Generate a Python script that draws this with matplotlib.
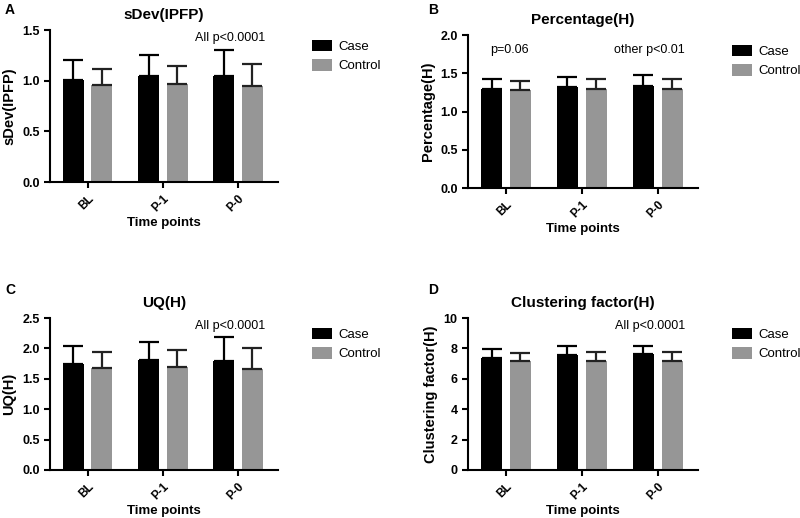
import matplotlib.pyplot as plt
import numpy as np

plt.rcParams['font.family'] = ['Liberation Sans', 'DejaVu Sans']

# Data
timepoints = ['BL', 'P-1', 'P-0']

sdev_case = [1.01, 1.05, 1.05]
sdev_case_err = [0.19, 0.20, 0.25]
sdev_ctrl = [0.96, 0.97, 0.95]
sdev_ctrl_err = [0.16, 0.18, 0.21]

pct_case = [1.30, 1.32, 1.33]
pct_case_err = [0.13, 0.13, 0.15]
pct_ctrl = [1.28, 1.29, 1.29]
pct_ctrl_err = [0.12, 0.13, 0.13]

uq_case = [1.75, 1.81, 1.80]
uq_case_err = [0.29, 0.30, 0.39]
uq_ctrl = [1.68, 1.69, 1.66]
uq_ctrl_err = [0.26, 0.29, 0.35]

cf_case = [7.4, 7.55, 7.6]
cf_case_err = [0.55, 0.6, 0.55]
cf_ctrl = [7.2, 7.2, 7.2]
cf_ctrl_err = [0.5, 0.55, 0.55]

CASE_COLOR = "#000000"
CTRL_COLOR = "#969696"

fig = plt.figure(figsize=(8, 5.18), dpi=100)

panels = [
    # letter, title, case, case_err, ctrl, ctrl_err, ymax, yticks, fmt, rect, letter pos
    ("A", "sDev(IPFP)", sdev_case, sdev_case_err, sdev_ctrl, sdev_ctrl_err,
     1.5, [0.0, 0.5, 1.0, 1.5], "{:.1f}", [0.0625, 0.6486, 0.285, 0.2934], (5, 10)),
    ("B", "Percentage(H)", pct_case, pct_case_err, pct_ctrl, pct_ctrl_err,
     2.0, [0.0, 0.5, 1.0, 1.5, 2.0], "{:.1f}", [0.585, 0.637, 0.2875, 0.2954], (428, 10)),
    ("C", "UQ(H)", uq_case, uq_case_err, uq_ctrl, uq_ctrl_err,
     2.5, [0.0, 0.5, 1.0, 1.5, 2.0, 2.5], "{:.1f}", [0.0625, 0.0927, 0.285, 0.2934], (5, 290)),
    ("D", "Clustering factor(H)", cf_case, cf_case_err, cf_ctrl, cf_ctrl_err,
     10, [0, 2, 4, 6, 8, 10], "{:d}", [0.585, 0.0927, 0.2875, 0.2934], (428, 290)),
]

x = np.arange(len(timepoints))
width = 0.28
offset = 0.19

axes = {}
for letter, title, case, case_err, ctrl, ctrl_err, ymax, yticks, fmt, rect, lpos in panels:
    ax = fig.add_axes(rect)
    axes[letter] = ax
    ax.bar(x - offset, case, width, color=CASE_COLOR, label="Case", zorder=2)
    ax.bar(x + offset, ctrl, width, color=CTRL_COLOR, label="Control", zorder=2)
    ax.errorbar(x - offset, case, yerr=[np.zeros(3), case_err], fmt='none',
                ecolor='black', elinewidth=1.6, capsize=7.5, capthick=1.6, zorder=3)
    ax.errorbar(x + offset, ctrl, yerr=[np.zeros(3), ctrl_err], fmt='none',
                ecolor='#222222', elinewidth=1.6, capsize=7.5, capthick=1.6, zorder=3)

    ax.set_xlim(-0.5, 2.53)
    ax.set_ylim(0, ymax)
    ax.set_yticks(yticks)
    ax.set_yticklabels([fmt.format(t) for t in yticks], fontsize=9, fontweight='bold')
    ax.set_xticks(x)
    ax.set_xticklabels(timepoints, rotation=45, ha='right', rotation_mode='anchor',
                       fontsize=8.5, fontweight='bold')
    for s in ['top', 'right']:
        ax.spines[s].set_visible(False)
    for s in ['left', 'bottom']:
        ax.spines[s].set_linewidth(1.5)
    ax.tick_params(width=1.5, length=4)

    ax.set_title(title, fontsize=11, fontweight='bold', pad=8)
    ax.set_ylabel(title, fontsize=10.5, fontweight='bold')
    ax.set_xlabel("Time points", fontsize=9.5, fontweight='bold', labelpad=2)
    fig.text(lpos[0] / 800, 1 - lpos[1] / 518, letter, fontsize=10,
             fontweight='bold', ha='left', va='center')

    ax.legend(loc='upper left', bbox_to_anchor=(1.12, 0.98), frameon=False,
              fontsize=9.5, handlelength=1.5, handleheight=1.0, labelspacing=0.45,
              borderpad=0, handletextpad=0.5)

axes["A"].text(0.943, 0.947, "All p<0.0001", transform=axes["A"].transAxes,
               fontsize=9, ha='right', va='center')
axes["B"].text(0.18, 0.90, "p=0.06", transform=axes["B"].transAxes,
               fontsize=9, ha='center', va='center')
axes["B"].text(0.943, 0.90, "other p<0.01", transform=axes["B"].transAxes,
               fontsize=9, ha='right', va='center')
axes["C"].text(0.943, 0.947, "All p<0.0001", transform=axes["C"].transAxes,
               fontsize=9, ha='right', va='center')
axes["D"].text(0.943, 0.947, "All p<0.0001", transform=axes["D"].transAxes,
               fontsize=9, ha='right', va='center')

plt.savefig("out.png", dpi=100)
